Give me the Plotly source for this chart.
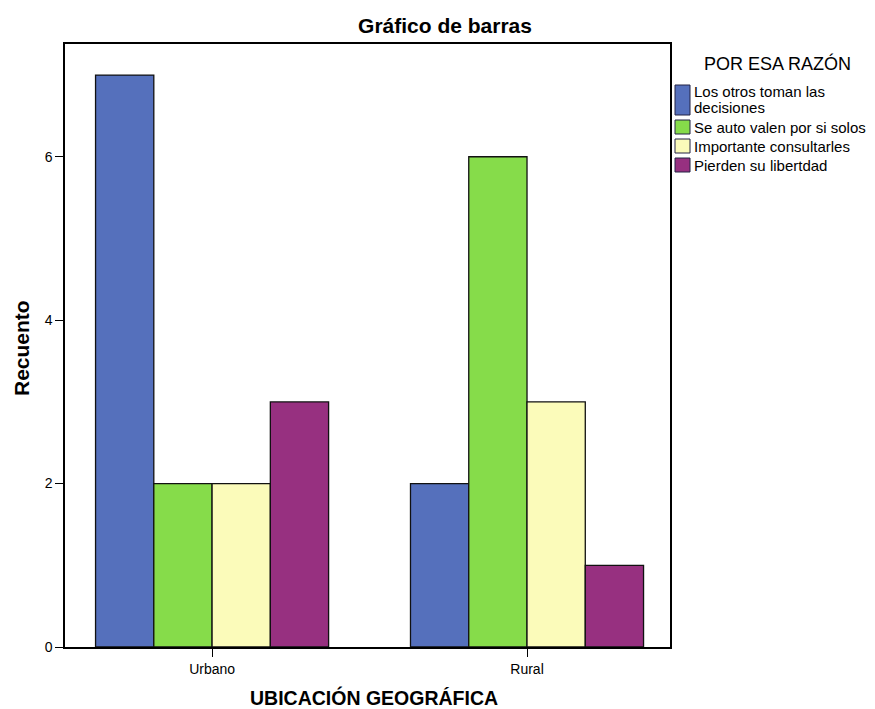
import plotly.graph_objects as go

categories = ["Urbano", "Rural"]
series_names = ["Los otros toman las<br>decisiones", "Se auto valen por si solos",
                "Importante consultarles", "Pierden su libertdad"]
series_values = [[7, 2], [2, 6], [2, 3], [3, 1]]
series_colors = ["#5570bc", "#86dc4a", "#fbfbba", "#973080"]
y_ticks = [0, 2, 4, 6]

FONT = "Liberation Sans, Arial, sans-serif"

fig = go.Figure()
for name, vals, col in zip(series_names, series_values, series_colors):
    fig.add_trace(go.Bar(x=categories, y=vals, name=name,
                         marker=dict(color=col, line=dict(color="#111111", width=1.3)),
                         showlegend=False))

L, R, T, B = 65, 205, 44, 62
W, H = 875, 709
pw, ph = W - L - R, H - T - B


def px_x(x):
    return (x - L) / pw


def px_y(y):
    return 1 - (y - T) / ph


fig.update_layout(
    width=W, height=H,
    margin=dict(l=L, r=R, t=T, b=B),
    paper_bgcolor="white", plot_bgcolor="white",
    barmode="group", bargap=0.26, bargroupgap=0,
    font=dict(family=FONT, color="black"),
    title=dict(text="<b>Gráfico de barras</b>", x=445 / W, xanchor="center",
               y=1 - 26 / H, yanchor="middle", font=dict(size=21)),
    showlegend=False,
)
fig.update_xaxes(range=[-0.467, 1.454], showline=True, linecolor="black", linewidth=1.5,
                 mirror=True, ticks="outside", ticklen=8, tickcolor="black",
                 tickfont=dict(size=14), showgrid=False)
fig.update_yaxes(range=[0, 7.38], tickvals=y_ticks, showline=True, linecolor="black",
                 linewidth=1.5, mirror=True, ticks="outside", ticklen=8, tickcolor="black",
                 tickfont=dict(size=14), showgrid=False, zeroline=False)

# axis titles
fig.add_annotation(text="<b>UBICACIÓN GEOGRÁFICA</b>", xref="paper", yref="paper",
                   x=px_x(374), y=px_y(697), xanchor="center", yanchor="middle",
                   showarrow=False, font=dict(size=19.5))
fig.add_annotation(text="<b>Recuento</b>", xref="paper", yref="paper", textangle=-90,
                   x=px_x(21), y=px_y(348), xanchor="center", yanchor="middle",
                   showarrow=False, font=dict(size=21))

# legend
fig.add_annotation(text="POR ESA RAZÓN", xref="paper", yref="paper",
                   x=px_x(777), y=px_y(64), xanchor="center", yanchor="middle",
                   showarrow=False, font=dict(size=18))
row_y = [92, 127, 146, 165]
for name, col, yy in zip(series_names, series_colors, row_y):
    lines = name.split("<br>")
    top = yy - 7
    bottom = yy + 7 + 16 * (len(lines) - 1)
    fig.add_shape(type="rect", xref="paper", yref="paper",
                  x0=px_x(675), x1=px_x(690), y0=px_y(top), y1=px_y(bottom),
                  fillcolor=col, line=dict(color="#222244", width=1))
    for i, line in enumerate(lines):
        fig.add_annotation(text=line, xref="paper", yref="paper", x=px_x(692),
                           y=px_y(yy + 16 * i), xanchor="left", yanchor="middle",
                           align="left", showarrow=False, font=dict(size=15))

fig.write_html("out.html", config={"displayModeBar": False},
               post_script="document.body.style.margin='0px';")
